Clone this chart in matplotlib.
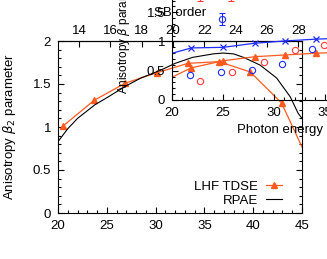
import matplotlib
matplotlib.use("Agg")
import matplotlib.pyplot as plt
from matplotlib.ticker import MultipleLocator, FormatStrFormatter

plt.rcParams['font.family'] = ['Liberation Sans', 'DejaVu Sans']
plt.rcParams['font.size'] = 9.5

# main plot data (photon energy, eV)
lhf_x = [20.5, 23.7, 26.9, 30.1, 33.3, 36.5, 39.7, 42.9, 46.1]
lhf_y = [1.01, 1.31, 1.51, 1.63, 1.74, 1.76, 1.64, 1.28, 0.50]
rpae_x = [20.0, 21.0, 22.0, 23.8, 25.0, 27.0, 28.5, 30.5, 32.0, 33.8, 35.9, 36.9,
          38.0, 39.0, 40.7, 42.4, 43.8, 44.6, 45.0]
rpae_y = [0.83, 0.98, 1.10, 1.26, 1.34, 1.48, 1.57, 1.66, 1.74, 1.81, 1.85, 1.86,
          1.85, 1.81, 1.72, 1.57, 1.35, 1.16, 1.10]

# inset data
ins_blue_x = [18.8, 21.9, 25.0, 28.1, 31.1, 34.1, 37.2]
ins_blue_y = [0.74, 0.89, 0.90, 0.97, 1.01, 1.04, 1.06]
ins_orange_x = [18.8, 21.9, 25.0, 28.1, 31.1, 34.1, 37.2]
ins_orange_y = [0.29, 0.55, 0.67, 0.74, 0.77, 0.80, 0.82]
circ_blue_x = [21.8, 24.8, 27.8, 30.8, 33.7]
circ_blue_y = [0.43, 0.48, 0.51, 0.61, 0.87]
circ_red_x = [22.7, 25.9, 29.0, 32.0, 34.9]
circ_red_y = [0.32, 0.47, 0.65, 0.85, 0.94]
err_blue_x = [24.9]
err_blue_y = [1.38]
err_red_x = [22.7, 25.8]
err_red_y = [1.80, 1.80]

sb_ticks = [14, 16, 18, 20, 22, 24, 26, 28]

orange = '#ff5a1e'
blue = '#1e2cff'
red = '#ff3c3c'

fig = plt.figure(figsize=(3.27, 2.59), dpi=100)

# Построение основного графика
ax = fig.add_axes([58/327, 46/259, 244/327, 172/259])
ax.plot(lhf_x, lhf_y, color=orange, lw=0.9, marker='^', ms=4.5, label='LHF TDSE')
ax.plot(rpae_x, rpae_y, color='black', lw=0.8, label='RPAE')
ax.set_xlim(20, 45)
ax.set_ylim(0, 2)
ax.xaxis.set_major_locator(MultipleLocator(5))
ax.xaxis.set_minor_locator(MultipleLocator(1))
ax.yaxis.set_major_locator(MultipleLocator(0.5))
ax.yaxis.set_minor_locator(MultipleLocator(0.1))
ax.yaxis.set_major_formatter(FormatStrFormatter('%g'))
ax.tick_params(which='both', direction='in', top=False, right=True)
ax.tick_params(which='major', length=4.5, width=0.8, pad=5)
ax.tick_params(which='minor', length=2.2, width=0.8)
ax.set_ylabel(r'Anisotropy $\beta_2$ parameter')
ax.yaxis.set_label_coords(-0.165, 0.5)
ax.legend(loc='lower right', frameon=False, markerfirst=False, handlelength=1.2,
          handletextpad=0.6, labelspacing=0.15, borderaxespad=0.4,
          bbox_to_anchor=(0.96, -0.025))

# SB order axis on top
sb = ax.secondary_xaxis('top', functions=(lambda e: 20 + (e - 31.78) / 1.604,
                                          lambda s: 31.78 + (s - 20) * 1.604))
sb.set_xticks(sb_ticks)
sb.tick_params(direction='in', length=4.5, width=0.8, pad=3)
sb.set_xlabel('SB order', labelpad=6)

# Вставка
ins = fig.add_axes([172/327, 159/259, 245/327, 102.4/259])
ins.patch.set_visible(False)
ins.plot(ins_blue_x, ins_blue_y, color=blue, lw=0.9, marker='x', ms=4, mew=0.9)
ins.plot(ins_orange_x, ins_orange_y, color=orange, lw=0.9, marker='^', ms=4.5)
ins.plot(circ_blue_x, circ_blue_y, ls='none', marker='o', ms=4.5, mfc='none',
         mec=blue, mew=0.8)
ins.plot(circ_red_x, circ_red_y, ls='none', marker='o', ms=4.5, mfc='none',
         mec=red, mew=0.8)
ins.errorbar(err_blue_x, err_blue_y, yerr=0.1, fmt='o', ms=4.5, mfc='none',
             mec=blue, ecolor=blue, elinewidth=0.8, capsize=2.5, mew=0.8)
ins.errorbar(err_red_x, err_red_y, yerr=0.1, fmt='o', ms=4.5, mfc='none',
             mec=red, ecolor=red, elinewidth=0.8, capsize=2.5, mew=0.8,
             clip_on=False)
ins.set_xlim(20, 44)
ins.set_ylim(0, 1.75)
ins.xaxis.set_major_locator(MultipleLocator(5))
ins.xaxis.set_minor_locator(MultipleLocator(1))
ins.set_yticks([0, 0.5, 1, 1.5])
ins.yaxis.set_major_formatter(FormatStrFormatter('%g'))
ins.yaxis.set_minor_locator(MultipleLocator(0.1))
ins.spines['top'].set_visible(False)
ins.tick_params(which='both', direction='in', top=False, right=False)
ins.tick_params(which='major', length=4.5, width=0.8, pad=5)
ins.tick_params(which='minor', length=2.2, width=0.8)
ins.set_xlabel('Photon energy (eV)', labelpad=4)
ins.set_ylabel(r'Anisotropy $\beta$ parameter', fontsize=8.5)
ins.yaxis.set_label_coords(-0.165, 0.67)

fig.savefig('out.png', dpi=100)
